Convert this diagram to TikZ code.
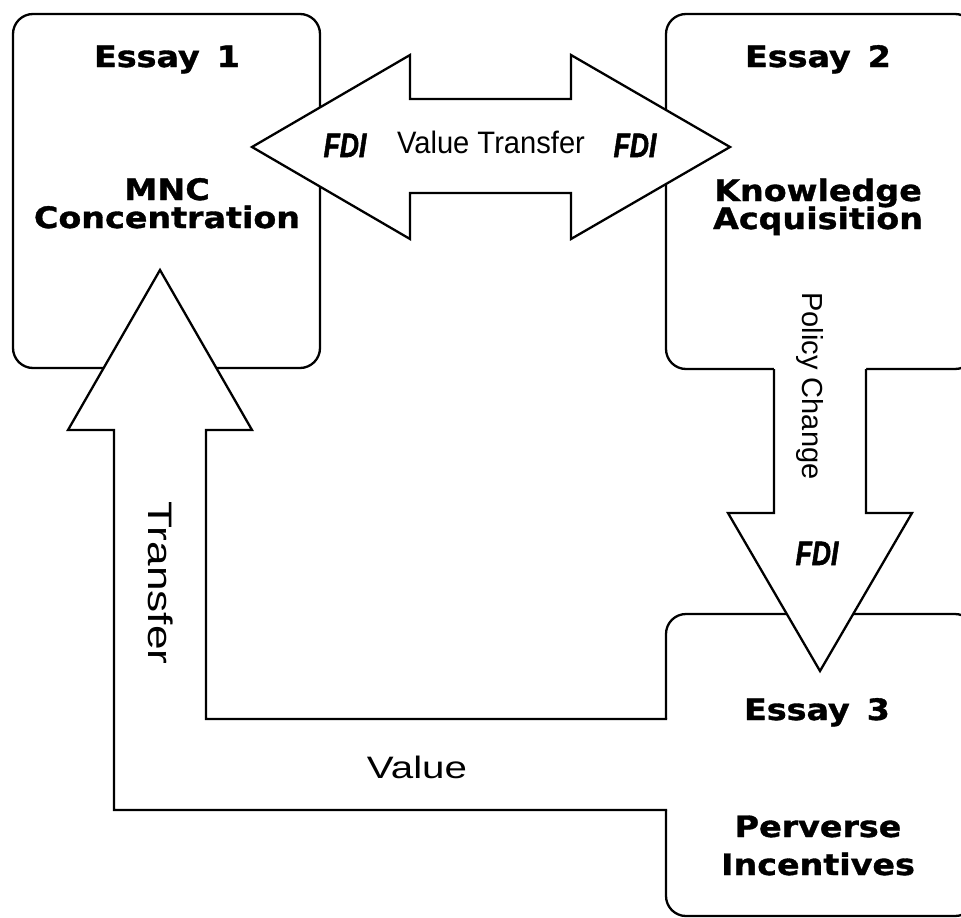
\documentclass[tikz,border=0pt]{standalone}
\usepackage{fontspec}
\newfontfamily\boxfont[FakeStretch=1.13, BoldFeatures={FakeBold=1.2}]{DejaVu Sans}
\newfontfamily\plainfont{Liberation Sans}
\newfontfamily\narrowfont[FakeStretch=0.94]{Liberation Sans}
\newfontfamily\widefont[FakeStretch=1.3]{Liberation Sans}
\newfontfamily\fdifont[FakeStretch=0.78, BoldItalicFeatures={FakeBold=1.5}]{Liberation Sans}
\tikzset{
  box/.style={draw, rounded corners=20pt, inner sep=0pt, outer sep=0pt},
  blockarrow/.style={line join=miter},
  title/.style={anchor=base, inner sep=0pt, font=\boxfont\bfseries\fontsize{29.5}{29.5}\selectfont},
  fdi/.style={anchor=base, inner sep=0pt, font=\fdifont\bfseries\itshape\fontsize{34}{34}\selectfont},
  vt/.style={anchor=base, inner sep=0pt, font=\narrowfont\fontsize{31}{31}\selectfont},
  pc/.style={anchor=base, inner sep=0pt, rotate=-90, font=\plainfont\fontsize{29}{29}\selectfont},
  wide/.style={anchor=base, inner sep=0pt, font=\widefont\fontsize{31}{31}\selectfont}
}
\begin{document}
\begin{tikzpicture}[x=1pt, y=-1pt, line width=2.3pt]
\useasboundingbox (0,0) rectangle (961,918);
\clip (0,0) rectangle (961,918);
\fill[white] (0,0) rectangle (961,918);
% boxes
\node[box, minimum width=307pt, minimum height=354pt] (e1) at (166.5,191) {};
\node[box, minimum width=309pt, minimum height=355pt] (e2) at (820.5,191.5) {};
\node[box, minimum width=309pt, minimum height=302pt] (e3) at (820.5,765) {};
% double arrow (Value Transfer)
\draw[blockarrow, fill=white] (252,147) -- (410,55) -- (410,99) -- (571,99) -- (571,55) -- (730,147)
   -- (571,239) -- (571,193) -- (410,193) -- (410,239) -- cycle;
% down arrow (Policy Change)
\fill[white] (774,364) -- (774,513) -- (728,513) -- (820,671) -- (912,513) -- (866,513) -- (866,364) -- cycle;
\draw[blockarrow] (774,369) -- (774,513) -- (728,513) -- (820,671) -- (912,513) -- (866,513) -- (866,369);
% bent arrow (Value Transfer back to Essay 1)
\fill[white] (670,719) -- (206,719) -- (206,430) -- (252,430) -- (160,270) -- (68,430) -- (114,430) -- (114,810) -- (670,810) -- cycle;
\draw[blockarrow] (667,719) -- (206,719) -- (206,430) -- (252,430) -- (160,270) -- (68,430) -- (114,430) -- (114,810) -- (667,810);
% texts
\node[title] (t1) at (167,67) {Essay\hspace{17pt}1};
\node[title] (t1a) at (167,200) {MNC};
\node[title] (t1b) at (167,228) {Concentration};
\node[title] (t2) at (818,67) {Essay\hspace{17pt}2};
\node[title] (t2a) at (818,201) {Knowledge};
\node[title] (t2b) at (818,229) {Acquisition};
\node[title] (t3) at (817,720) {Essay\hspace{17pt}3};
\node[title] (t3a) at (818,837) {Perverse};
\node[title] (t3b) at (818,875) {Incentives};
\node[fdi] (f1) at (345,157) {FDI};
\node[vt] (vt) at (491,153) {Value Transfer};
\node[fdi] (f2) at (635,157) {FDI};
\node[pc] (pcl) at (802,386) {Policy Change};
\node[fdi] (f3) at (817,565) {FDI};
\node[wide, rotate=-90, font=\widefont\fontsize{34}{34}\selectfont] (tr) at (148,583) {Transfer};
\node[wide] (val) at (417,778) {Value};
\end{tikzpicture}
\end{document}
